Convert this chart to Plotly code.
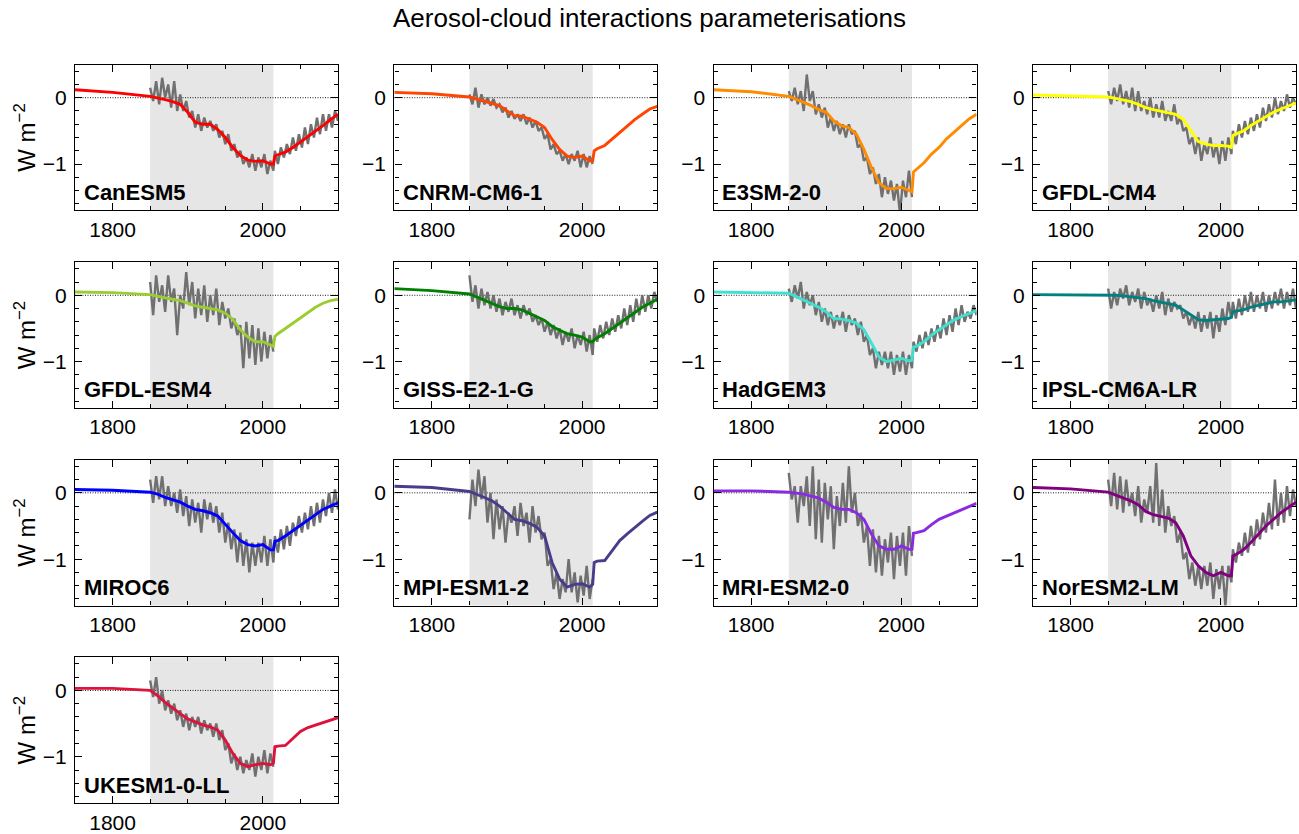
import plotly.graph_objects as go

# ---------------------------------------------------------------------------
# Data: effective radiative forcing from aerosol-cloud interactions (W m-2)
# ---------------------------------------------------------------------------

# Years of the smooth (parameterised) curves
SMOOTH_YEARS = [1750, 1800, 1850, 1860, 1870, 1880, 1890, 1900, 1910, 1920,
                1930, 1940, 1950, 1960, 1970, 1980, 1990, 2000, 2010, 2014,
                2016, 2020, 2030, 2040, 2050, 2060, 2070, 2080, 2090, 2100]

# Years of the model diagnosed (noisy) series
HIST_YEARS = list(range(1850, 2015, 4))      # 1850 ... 2014
FUTURE_YEARS = list(range(2016, 2101, 4))    # 2016 ... 2100

MODELS = ["CanESM5", "CNRM-CM6-1", "E3SM-2-0", "GFDL-CM4",
          "GFDL-ESM4", "GISS-E2-1-G", "HadGEM3", "IPSL-CM6A-LR",
          "MIROC6", "MPI-ESM1-2", "MRI-ESM2-0", "NorESM2-LM",
          "UKESM1-0-LL"]

COLORS = ["#ff0000", "#ff4500", "#ff8c00", "#ffff00",
          "#9acd32", "#008000", "#40e0d0", "#008080",
          "#0000ff", "#483d8b", "#8a2be2", "#800080",
          "#dc143c"]

# Smooth parameterised curves
CANESM5_FIT = [0.12, 0.08, 0.02, 0.0, -0.03, -0.06, -0.1, -0.22, -0.37, -0.4,
               -0.4, -0.48, -0.6, -0.75, -0.87, -0.94, -0.96, -0.95, -1.0, -1.0,
               -0.88, -0.86, -0.82, -0.75, -0.67, -0.58, -0.5, -0.42, -0.33, -0.25]
CNRM_FIT = [0.08, 0.06, 0.01, -0.02, -0.05, -0.08, -0.12, -0.2, -0.27, -0.28,
            -0.33, -0.37, -0.45, -0.63, -0.78, -0.88, -0.9, -0.88, -0.95, -0.95,
            -0.8, -0.77, -0.72, -0.62, -0.52, -0.42, -0.33, -0.25, -0.17, -0.13]
E3SM_FIT = [0.12, 0.09, 0.02, -0.02, -0.07, -0.12, -0.18, -0.22, -0.35, -0.42,
            -0.45, -0.55, -0.78, -1.05, -1.28, -1.37, -1.37, -1.35, -1.4, -1.42,
            -1.12, -1.08, -0.98, -0.85, -0.75, -0.62, -0.52, -0.42, -0.32, -0.25]
GFDL_CM4_FIT = [0.04, 0.03, 0.01, -0.01, -0.03, -0.06, -0.1, -0.15, -0.18, -0.2,
                -0.22, -0.25, -0.33, -0.5, -0.66, -0.7, -0.72, -0.72, -0.73, -0.75,
                -0.57, -0.55, -0.5, -0.42, -0.35, -0.28, -0.22, -0.17, -0.12, -0.08]
GFDL_ESM4_FIT = [0.05, 0.04, 0.01, -0.02, -0.04, -0.06, -0.08, -0.12, -0.16, -0.18,
                 -0.2, -0.22, -0.27, -0.36, -0.52, -0.63, -0.7, -0.7, -0.75, -0.77,
                 -0.62, -0.58, -0.5, -0.42, -0.33, -0.25, -0.18, -0.12, -0.08, -0.06]
GISS_FIT = [0.1, 0.07, 0.02, -0.03, -0.08, -0.12, -0.17, -0.2, -0.2, -0.22,
            -0.27, -0.32, -0.38, -0.47, -0.53, -0.58, -0.6, -0.63, -0.7, -0.7,
            -0.67, -0.64, -0.58, -0.5, -0.42, -0.34, -0.26, -0.18, -0.12, -0.06]
HADGEM3_FIT = [0.05, 0.04, 0.03, -0.02, -0.07, -0.12, -0.18, -0.25, -0.35, -0.36,
               -0.38, -0.42, -0.52, -0.72, -0.93, -1.0, -0.98, -0.95, -0.99, -0.98,
               -0.78, -0.77, -0.7, -0.6, -0.52, -0.45, -0.37, -0.32, -0.27, -0.23]
IPSL_FIT = [0.01, 0.01, 0.01, 0.0, -0.01, -0.02, -0.03, -0.05, -0.08, -0.1,
            -0.12, -0.15, -0.22, -0.3, -0.37, -0.38, -0.37, -0.35, -0.35, -0.33,
            -0.25, -0.24, -0.22, -0.18, -0.15, -0.12, -0.1, -0.1, -0.08, -0.07]
MIROC6_FIT = [0.05, 0.04, 0.01, -0.02, -0.07, -0.1, -0.14, -0.2, -0.25, -0.27,
              -0.3, -0.35, -0.48, -0.6, -0.72, -0.78, -0.8, -0.78, -0.86, -0.86,
              -0.73, -0.72, -0.65, -0.57, -0.48, -0.4, -0.32, -0.25, -0.2, -0.15]
MPI_FIT = [0.1, 0.08, 0.02, -0.02, -0.07, -0.12, -0.2, -0.3, -0.4, -0.42,
           -0.46, -0.52, -0.65, -1.05, -1.3, -1.42, -1.38, -1.37, -1.42, -1.38,
           -1.05, -1.03, -1.02, -0.87, -0.72, -0.62, -0.52, -0.43, -0.34, -0.29]
MRI_FIT = [0.03, 0.03, 0.01, 0.0, -0.02, -0.05, -0.08, -0.14, -0.22, -0.25,
           -0.25, -0.3, -0.4, -0.62, -0.8, -0.85, -0.85, -0.8, -0.85, -0.85,
           -0.61, -0.6, -0.57, -0.48, -0.4, -0.35, -0.3, -0.25, -0.2, -0.16]
NORESM_FIT = [0.08, 0.06, 0.01, -0.03, -0.07, -0.12, -0.18, -0.28, -0.33, -0.36,
              -0.38, -0.45, -0.65, -0.95, -1.1, -1.2, -1.25, -1.2, -1.25, -1.25,
              -0.95, -0.93, -0.86, -0.75, -0.62, -0.5, -0.4, -0.3, -0.22, -0.14]
UKESM_FIT = [0.03, 0.03, 0.0, -0.08, -0.18, -0.27, -0.35, -0.43, -0.48, -0.52,
             -0.55, -0.6, -0.75, -0.95, -1.1, -1.15, -1.12, -1.1, -1.12, -1.1,
             -0.85, -0.84, -0.83, -0.72, -0.62, -0.56, -0.52, -0.48, -0.44, -0.41]

# Model diagnosed series, historical period (1850-2014)
CANESM5_HIST = [0.15, -0.05, 0.25, -0.1, 0.3, 0.0, 0.2, -0.15, 0.25, -0.2,
                0.05, -0.2, -0.05, -0.3, -0.2, -0.45, -0.25, -0.5, -0.3, -0.45,
                -0.35, -0.5, -0.4, -0.6, -0.5, -0.7, -0.55, -0.8, -0.7, -0.9,
                -0.8, -1.0, -0.9, -1.05, -0.85, -1.1, -0.9, -1.05, -0.85, -1.15,
                -0.95, -1.1]
CNRM_HIST = [0.05, -0.1, 0.15, -0.15, 0.05, -0.1, 0.0, -0.12, -0.02, -0.15,
             -0.1, -0.22, -0.15, -0.3, -0.2, -0.32, -0.25, -0.35, -0.25, -0.4,
             -0.3, -0.45, -0.35, -0.5, -0.45, -0.62, -0.55, -0.78, -0.7, -0.85,
             -0.8, -0.95, -0.85, -1.0, -0.85, -0.95, -0.8, -1.05, -0.85, -1.05,
             -0.88, -1.0]
E3SM_HIST = [0.1, -0.05, 0.15, -0.1, 0.1, -0.2, 0.35, -0.05, 0.1, -0.25,
             -0.1, -0.3, -0.15, -0.45, -0.3, -0.5, -0.35, -0.55, -0.4, -0.6,
             -0.4, -0.55, -0.5, -0.75, -0.7, -0.95, -0.9, -1.15, -1.05, -1.3,
             -1.15, -1.5, -1.2, -1.45, -1.25, -1.55, -1.3, -1.75, -1.25, -1.5,
             -1.1, -1.5]
GFDL_CM4_HIST = [0.1, -0.1, 0.15, -0.05, 0.2, -0.1, 0.1, -0.15, 0.15, -0.2,
                 0.1, -0.2, -0.05, -0.25, 0.0, -0.3, -0.1, -0.3, -0.05, -0.35,
                 -0.2, -0.35, -0.1, -0.4, -0.3, -0.5, -0.45, -0.7, -0.6, -0.85,
                 -0.6, -0.95, -0.7, -0.85, -0.6, -0.9, -0.7, -1.0, -0.65, -0.95,
                 -0.6, -0.85]
GFDL_ESM4_HIST = [0.2, -0.3, 0.3, -0.1, 0.15, -0.25, 0.3, -0.1, 0.1, -0.6,
                  0.0, -0.2, 0.35, -0.15, 0.2, -0.35, 0.1, -0.3, 0.15, -0.4,
                  0.0, -0.3, 0.1, -0.45, -0.1, -0.35, -0.2, -0.5, -0.35, -0.6,
                  -0.45, -1.1, -0.4, -0.95, -0.45, -1.05, -0.5, -1.0, -0.55, -0.95,
                  -0.6, -0.85]
GISS_HIST = [0.3, -0.1, 0.15, -0.2, 0.1, -0.15, 0.05, -0.2, 0.0, -0.25,
             -0.05, -0.3, -0.1, -0.25, -0.05, -0.3, -0.15, -0.35, -0.15, -0.3,
             -0.2, -0.4, -0.3, -0.45, -0.35, -0.55, -0.4, -0.6, -0.45, -0.65,
             -0.5, -0.75, -0.55, -0.7, -0.5, -0.8, -0.6, -0.75, -0.55, -0.85,
             -0.6, -0.9]
HADGEM3_HIST = [0.1, -0.1, 0.15, -0.05, 0.2, -0.2, 0.05, -0.15, 0.0, -0.3,
                -0.1, -0.4, -0.2, -0.45, -0.25, -0.5, -0.3, -0.45, -0.25, -0.55,
                -0.3, -0.45, -0.35, -0.6, -0.4, -0.7, -0.6, -0.9, -0.8, -1.1,
                -0.85, -1.05, -0.85, -1.1, -0.85, -1.2, -0.9, -1.15, -0.85, -1.2,
                -0.9, -1.1]
IPSL_HIST = [0.1, -0.2, 0.05, -0.15, 0.1, -0.05, 0.15, -0.15, 0.05, -0.1,
             0.1, -0.2, 0.05, -0.15, -0.05, -0.25, 0.0, -0.2, 0.05, -0.3,
             -0.05, -0.25, -0.1, -0.2, -0.15, -0.35, -0.25, -0.45, -0.3, -0.5,
             -0.25, -0.55, -0.3, -0.5, -0.25, -0.65, -0.3, -0.55, -0.2, -0.45,
             -0.1, -0.35]
MIROC6_HIST = [0.2, -0.15, 0.25, -0.1, 0.25, -0.2, 0.1, -0.2, 0.0, -0.3,
               0.05, -0.35, -0.05, -0.5, -0.1, -0.45, -0.15, -0.6, -0.1, -0.4,
               -0.15, -0.45, -0.2, -0.6, -0.3, -0.75, -0.45, -0.85, -0.55, -1.05,
               -0.6, -1.1, -0.7, -1.2, -0.75, -1.1, -0.75, -1.05, -0.65, -1.1,
               -0.7, -1.05]
MPI_HIST = [-0.4, 0.2, -0.2, 0.35, -0.1, 0.25, -0.45, 0.0, -0.7, -0.1,
            -0.55, -0.2, -0.75, -0.3, -0.45, -0.2, -0.65, -0.15, -0.5, -0.3,
            -0.75, -0.2, -0.6, -0.35, -0.7, -0.6, -1.1, -1.0, -1.45, -1.2,
            -1.6, -1.3, -1.5, -1.0, -1.5, -1.2, -1.65, -1.25, -1.55, -1.1,
            -1.6, -1.3]
MRI_HIST = [0.3, -0.1, 0.1, -0.45, 0.1, -0.2, 0.25, -0.5, 0.4, -0.7,
            0.2, -0.75, 0.15, -0.4, 0.1, -0.85, -0.05, -0.5, 0.15, -0.45,
            0.4, -0.3, 0.0, -0.5, -0.3, -0.75, -0.5, -1.1, -0.55, -1.2,
            -0.65, -1.25, -0.7, -1.05, -0.6, -1.3, -0.65, -1.1, -0.6, -1.25,
            -0.5, -0.95]
NORESM_HIST = [0.2, -0.2, 0.3, -0.25, 0.25, -0.3, 0.2, -0.2, 0.0, -0.35,
               0.1, -0.45, -0.1, -0.3, 0.1, -0.45, 0.45, -0.5, 0.05, -0.6,
               -0.2, -0.5, -0.35, -0.75, -0.6, -1.0, -0.9, -1.3, -1.05, -1.4,
               -1.1, -1.45, -1.1, -1.4, -1.05, -1.6, -1.15, -1.45, -1.1, -1.7,
               -1.1, -1.35]
UKESM_HIST = [0.15, -0.1, 0.2, -0.2, 0.0, -0.3, -0.15, -0.35, -0.2, -0.45,
              -0.3, -0.55, -0.35, -0.6, -0.4, -0.55, -0.4, -0.65, -0.45, -0.6,
              -0.5, -0.7, -0.5, -0.75, -0.6, -0.9, -0.8, -1.1, -0.95, -1.2,
              -1.0, -1.25, -1.05, -1.2, -0.95, -1.3, -1.0, -1.2, -0.9, -1.25,
              -0.95, -1.15]

# Model diagnosed series, scenario period (2016-2100), where available
CANESM5_FUT = [-0.8, -1.0, -0.75, -0.9, -0.7, -0.85, -0.6, -0.8, -0.55, -0.75,
               -0.45, -0.7, -0.4, -0.6, -0.3, -0.55, -0.25, -0.5, -0.25, -0.45,
               -0.2, -0.35]
GFDL_CM4_FUT = [-0.5, -0.7, -0.4, -0.6, -0.35, -0.55, -0.3, -0.5, -0.25, -0.45,
                -0.15, -0.35, -0.1, -0.3, 0.0, -0.25, -0.05, -0.2, 0.05, -0.15,
                0.0, -0.1]
GISS_FUT = [-0.5, -0.7, -0.45, -0.65, -0.4, -0.6, -0.35, -0.55, -0.3, -0.5,
            -0.2, -0.45, -0.15, -0.4, -0.05, -0.3, 0.0, -0.25, 0.0, -0.2,
            0.05, -0.1]
HADGEM3_FUT = [-0.7, -0.85, -0.6, -0.8, -0.55, -0.75, -0.5, -0.7, -0.45, -0.65,
               -0.35, -0.6, -0.3, -0.55, -0.2, -0.45, -0.15, -0.4, -0.25, -0.35,
               -0.15, -0.3]
IPSL_FUT = [-0.1, -0.35, -0.05, -0.3, 0.0, -0.25, 0.05, -0.25, 0.0, -0.2,
            0.05, -0.25, 0.0, -0.2, 0.05, -0.15, 0.1, -0.2, 0.05, -0.15,
            0.1, -0.2]
MIROC6_FUT = [-0.65, -0.9, -0.55, -0.85, -0.5, -0.8, -0.45, -0.65, -0.35, -0.6,
              -0.3, -0.55, -0.2, -0.5, -0.15, -0.45, -0.1, -0.35, 0.0, -0.3,
              0.05, -0.25]
NORESM_FUT = [-0.85, -1.05, -0.75, -0.95, -0.6, -0.9, -0.5, -0.8, -0.4, -0.7,
              -0.3, -0.6, -0.15, -0.55, 0.2, -0.5, 0.0, -0.45, 0.1, -0.35,
              0.05, -0.2]

FITS = [CANESM5_FIT, CNRM_FIT, E3SM_FIT, GFDL_CM4_FIT, GFDL_ESM4_FIT, GISS_FIT,
        HADGEM3_FIT, IPSL_FIT, MIROC6_FIT, MPI_FIT, MRI_FIT, NORESM_FIT, UKESM_FIT]
HISTS = [CANESM5_HIST, CNRM_HIST, E3SM_HIST, GFDL_CM4_HIST, GFDL_ESM4_HIST, GISS_HIST,
         HADGEM3_HIST, IPSL_HIST, MIROC6_HIST, MPI_HIST, MRI_HIST, NORESM_HIST, UKESM_HIST]
FUTS = [CANESM5_FUT, None, None, GFDL_CM4_FUT, None, GISS_FUT,
        HADGEM3_FUT, IPSL_FUT, MIROC6_FUT, None, None, NORESM_FUT, None]

for f in FITS:
    assert len(f) == len(SMOOTH_YEARS)
for h in HISTS:
    assert len(h) == len(HIST_YEARS)
for f in FUTS:
    assert f is None or len(f) == len(FUTURE_YEARS)

# ---------------------------------------------------------------------------
# Figure
# ---------------------------------------------------------------------------
W, H = 1299, 834
FONT = "Liberation Sans, Arial, Helvetica, sans-serif"
GREY_LINE = "rgb(112,112,112)"
SHADE = "#e6e6e6"

COL_LEFT = [75, 394.3, 713.6, 1033]
PANEL_W = 263
ROW_TOP = [65, 264, 463, 662]
PANEL_H = 147

fig = go.Figure()
shapes = []
annotations = []
layout_axes = {}

for k, name in enumerate(MODELS):
    row, col = divmod(k, 4)
    sfx = "" if k == 0 else str(k + 1)
    xname, yname = "x" + sfx, "y" + sfx

    x0 = COL_LEFT[col] / W
    x1 = (COL_LEFT[col] + PANEL_W) / W
    y1 = 1 - ROW_TOP[row] / H
    y0 = 1 - (ROW_TOP[row] + PANEL_H) / H

    # model diagnosed series (grey)
    gx = list(HIST_YEARS)
    gy = list(HISTS[k])
    if FUTS[k] is not None:
        gx += FUTURE_YEARS
        gy += FUTS[k]
    fig.add_trace(go.Scatter(x=gx, y=gy, mode="lines", xaxis=xname, yaxis=yname,
                             line=dict(color=GREY_LINE, width=2.4),
                             hoverinfo="skip", showlegend=False))
    # parameterised fit (colour)
    fig.add_trace(go.Scatter(x=SMOOTH_YEARS, y=FITS[k], mode="lines",
                             xaxis=xname, yaxis=yname,
                             line=dict(color=COLORS[k], width=2.9),
                             name=name, showlegend=False))

    # historical period shading
    shapes.append(dict(type="rect", xref=xname, yref=yname + " domain",
                       x0=1850, x1=2014, y0=0, y1=1, fillcolor=SHADE,
                       line=dict(width=0), layer="below"))
    # zero reference line
    shapes.append(dict(type="line", xref=xname + " domain", yref=yname,
                       x0=0, x1=1, y0=0, y1=0,
                       line=dict(color="black", width=0.9, dash="1px,1.5px"),
                       layer="below"))

    annotations.append(dict(text="<b>%s</b>" % name, xref=xname + " domain",
                            yref=yname + " domain", x=0.025, y=0.025,
                            xanchor="left", yanchor="bottom", showarrow=False,
                            font=dict(size=22, color="black", family=FONT)))

    axis_common = dict(showgrid=False, zeroline=False, showline=True,
                       linecolor="black", linewidth=1.4, mirror="allticks",
                       ticks="inside", ticklen=7, tickwidth=1.2,
                       tickcolor="black", tickfont=dict(size=21, color="black"))
    layout_axes["xaxis" + sfx] = dict(
        axis_common, domain=[x0, x1], anchor=yname, range=[1750, 2100],
        tickmode="array", tickvals=[1800, 2000],
        minor=dict(tickmode="array", tickvals=[1750, 1850, 1900, 1950, 2050, 2100],
                   ticks="inside", ticklen=4, tickwidth=1, tickcolor="black",
                   showgrid=False))
    ydict = dict(
        axis_common, domain=[y0, y1], anchor=xname, range=[-1.7, 0.5],
        tickmode="array", tickvals=[-1, 0], ticklabelstandoff=3,
        minor=dict(tickmode="array",
                   tickvals=[-1.6, -1.4, -1.2, -0.8, -0.6, -0.4, -0.2, 0.2, 0.4],
                   ticks="inside", ticklen=4, tickwidth=1, tickcolor="black",
                   showgrid=False))
    if col == 0:
        ydict["title"] = dict(text="W m<sup>\u22122</sup>",
                              font=dict(size=24, color="black", family=FONT),
                              standoff=0)
    layout_axes["yaxis" + sfx] = ydict

fig.update_layout(
    width=W, height=H,
    margin=dict(l=0, r=0, t=0, b=0),
    paper_bgcolor="white", plot_bgcolor="white",
    font=dict(family=FONT, color="black"),
    showlegend=False,
    title=dict(text="Aerosol-cloud interactions parameterisations",
               x=0.5, xanchor="center", xref="paper",
               y=1 - 18 / H, yanchor="middle", yref="container",
               font=dict(size=26, color="black", family=FONT)),
    shapes=shapes,
    annotations=annotations,
    **layout_axes,
)

fig.write_html("out.html")
